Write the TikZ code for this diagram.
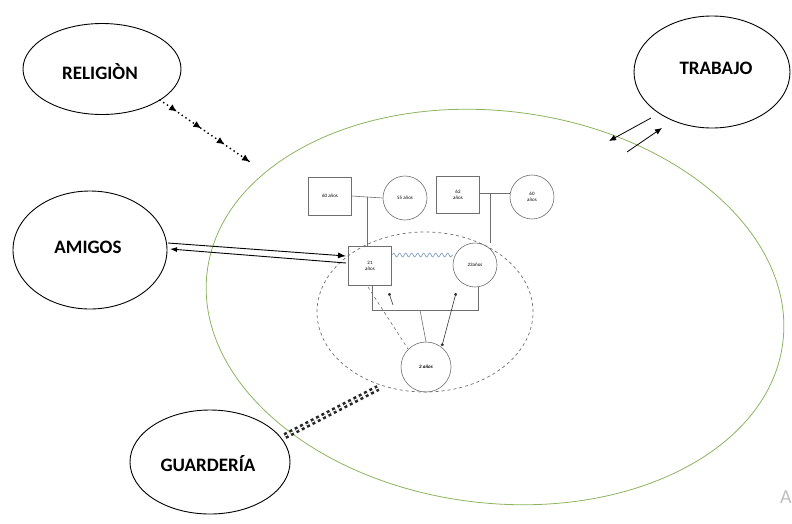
\documentclass[tikz,border=0pt]{standalone}
\usepackage{fontspec}
\setmainfont{Carlito}
\usetikzlibrary{shapes.geometric,arrows.meta,decorations.markings,decorations.pathmorphing}
\definecolor{famgreen}{RGB}{140,180,95}
\definecolor{geno}{RGB}{110,110,110}
\definecolor{wave}{RGB}{120,150,190}
\tikzset{
  bigell/.style={draw=black, line width=0.9pt, ellipse, inner sep=0pt},
  lbl/.style={font=\bfseries\fontsize{19}{21}\selectfont},
  male/.style={draw=geno, line width=0.6pt, rectangle, inner sep=0pt, align=center, font=\fontsize{5}{6}\selectfont},
  female/.style={draw=geno, line width=0.6pt, circle, inner sep=0pt, align=center, font=\fontsize{5}{6}\selectfont},
  gline/.style={draw=geno, line width=0.6pt},
  dotarrow/.style={line width=0.6pt, draw=black!80, -{Circle[length=3pt]}},
  rhead/.tip={Latex[length=8pt,width=7pt]},
}
\begin{document}
\begin{tikzpicture}[x=1pt,y=-1pt]
\useasboundingbox (0,0) rectangle (792,523);
% outer ellipses
\node[bigell, minimum width=158pt, minimum height=91pt] (rel) at (102,69) {};
\node[lbl] (relt) at (100,72) {RELIGIÒN};
\node[bigell, minimum width=156pt, minimum height=112pt] (tra) at (712,72) {};
\node[lbl] (trat) at (716,68) {TRABAJO};
\node[bigell, minimum width=154pt, minimum height=118pt] (ami) at (90,250) {};
\node[lbl] (amit) at (88,247) {AMIGOS};
\node[bigell, minimum width=160pt, minimum height=104pt] (gua) at (210,462) {};
\node[lbl] (guat) at (208,464) {GUARDERÍA};
% family ellipse
\node[draw=famgreen, line width=0.8pt, ellipse, inner sep=0pt, minimum width=580pt, minimum height=392pt, rotate=-7] (fam) at (495,307) {};
% household dashed ellipse
\node[draw=geno, dashed, line width=0.7pt, ellipse, inner sep=0pt, minimum width=216pt, minimum height=160pt] (hh) at (425,312) {};
% genogram
\node[male, minimum width=43pt, minimum height=38pt] (gf1) at (330,196) {60 años};
\node[female, minimum size=44pt] (gm1) at (405,198) {55 años};
\node[male, minimum width=43pt, minimum height=37pt] (gf2) at (458,195) {62\\años};
\node[female, minimum size=44pt] (gm2) at (532,197) {60\\años};
\node[male, minimum width=43pt, minimum height=39pt] (fa) at (370,266) {21\\años};
\node[female, minimum size=44pt] (mo) at (475,265) {23años};
\node[female, minimum size=50pt, font=\bfseries\itshape\fontsize{5}{6}\selectfont] (ch) at (426,367) {2 años};
% marriage lines
\draw[gline] (gf1.east) -- (gm1.west);
\draw[gline] (gf2.east |- 0,193) -- (gm2.west |- 0,193);
\coordinate (m1) at (367,197);
\coordinate (m2) at (490,193);
\draw[gline] (m1) -- (m1 |- fa.north);
\draw[gline] (m2) -- (m2 |- mo.north);
% relationship wave
\draw[wave, line width=0.6pt, decorate, decoration={snake, amplitude=2pt, segment length=6pt}] (fa.east |- 0,255) -- (mo.west |- 0,255);
% child line
\coordinate (cr) at (478,310);
\coordinate (cm) at (420,310);
\draw[gline] (372,286) |- (cr) -- (478,287);
\draw[gline] (cm) -- (ch.north);
% dashed link from father to child
\draw[geno, dashed, line width=0.6pt] (368,287) -- (ch.north west);
% small arrows
\coordinate (sa1) at (393,305);
\coordinate (sa2) at (389,293);
\draw[dotarrow] (sa1) -- (sa2);
\coordinate (la2) at (456,293);
\draw[dotarrow, {Circle[length=3pt]}-{Circle[length=3pt]}] (ch.north east) ++(-2,-3) coordinate (la1) -- (la2);
% religion dotted arrows
\coordinate (re1) at (160,100);
\coordinate (re2) at (250,162);
\draw[line width=2pt, line cap=round, dash pattern=on 0pt off 4.5pt, decoration={markings,
   mark=at position 0.19 with {\arrow{rhead}},
   mark=at position 0.46 with {\arrow{rhead}},
   mark=at position 0.72 with {\arrow{rhead}},
   mark=at position 1 with {\arrow{rhead}}}, postaction={decorate}]
   (re1) -- (re2);
% amigos double arrows
\coordinate (am1) at (168,243);
\coordinate (am2) at (346,256);
\coordinate (am3) at (346,263);
\coordinate (am4) at (170,249);
\draw[line width=0.9pt, -{Latex[length=8pt,width=6pt]}] (am1) -- (am2);
\draw[line width=0.9pt, -{Latex[length=7pt,width=5pt]}] (am3) -- (am4);
% trabajo arrows
\coordinate (tr1) at (651,118);
\coordinate (tr2) at (609,141);
\coordinate (tr3) at (627,152);
\coordinate (tr4) at (662,128);
\draw[line width=0.8pt, -{Latex[length=7pt,width=6pt]}] (tr1) -- (tr2);
\draw[line width=0.8pt, -{Latex[length=7pt,width=6pt]}] (tr3) -- (tr4);
% guarderia dashed double
\coordinate (gu1) at (285,436);
\coordinate (gu2) at (378,388);
\draw[black!85, double=white, line width=2.6pt, double distance=1.1pt, dash pattern=on 3pt off 3pt] (gu1) -- (gu2);
% watermark
\node[text=black!25, font=\fontsize{20}{22}\selectfont, anchor=west, inner sep=0pt] (wm) at (780,497) {A};
\end{tikzpicture}
\end{document}
